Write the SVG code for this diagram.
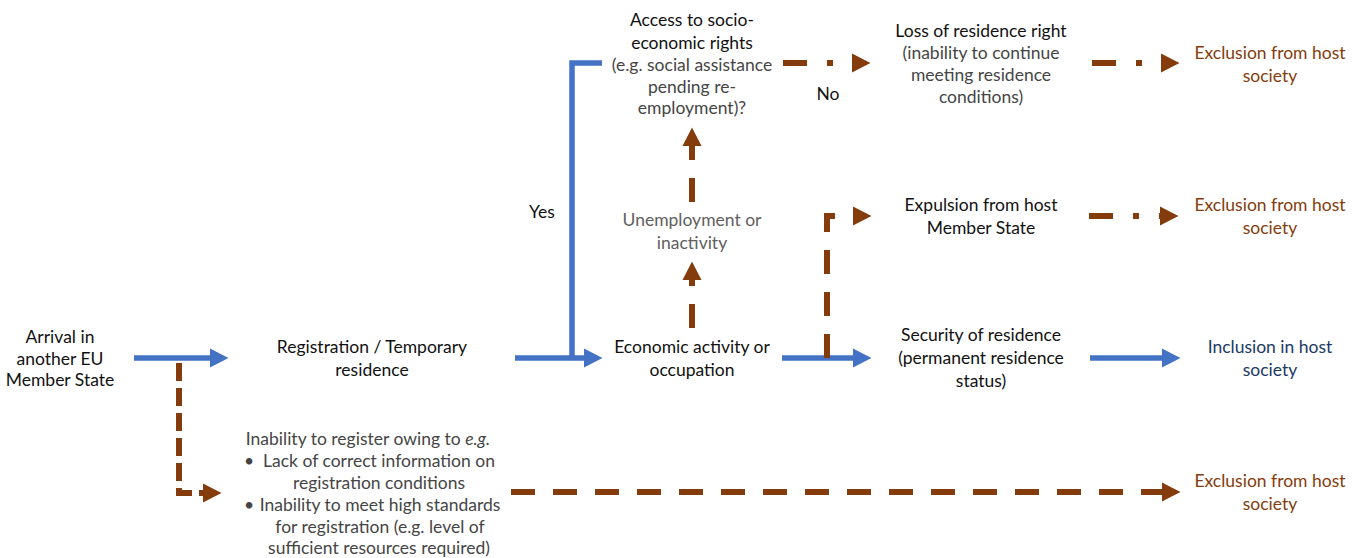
<svg xmlns="http://www.w3.org/2000/svg" width="1360" height="558" viewBox="0 0 1360 558">
  <style>
    text { font-family: Lato, "Open Sans", "Liberation Sans", sans-serif; font-size: 17.5px; text-anchor: middle; fill: #111111; }
    .light { fill: #454545; }
    .grey { fill: #606060; }
    .brown { fill: #843C0C; }
    .navy { fill: #203864; }
    .blue { fill: none; stroke: #4472C4; stroke-width: 5.5; }
    .bdash { fill: none; stroke: #843C0C; stroke-width: 6; stroke-dasharray: 24 18; }
    .bsys { fill: none; stroke: #843C0C; stroke-width: 6; stroke-dasharray: 18 7; }
    .bdot { fill: none; stroke: #843C0C; stroke-width: 6; stroke-dasharray: 24 20 6 20; }
  </style>
  <defs>
    <marker id="headBlue" markerUnits="userSpaceOnUse" markerWidth="19" markerHeight="20" refX="0" refY="9.5" orient="auto" overflow="visible">
      <path d="M0,0 L18.5,9.5 L0,19 Z" fill="#4472C4"/>
    </marker>
    <marker id="headBrown" markerUnits="userSpaceOnUse" markerWidth="19" markerHeight="20" refX="0" refY="9.5" orient="auto" overflow="visible">
      <path d="M0,0 L18.5,9.5 L0,19 Z" fill="#843C0C"/>
    </marker>
  </defs>

  <g id="connectors">
    <!-- main path (blue, solid) -->
    <path class="blue" d="M134,358 H210" marker-end="url(#headBlue)"/>
    <path class="blue" d="M515,358 H584" marker-end="url(#headBlue)"/>
    <path class="blue" d="M572,358 V63 H602"/>
    <path class="blue" d="M782,358 H853" marker-end="url(#headBlue)"/>
    <path class="blue" d="M1090,358 H1162" marker-end="url(#headBlue)"/>
    <!-- exclusion paths (brown, dashed) -->
    <path class="bsys" d="M179,363 V493 H203" marker-end="url(#headBrown)"/>
    <path class="bdash" d="M511,492 H1162" marker-end="url(#headBrown)"/>
    <path class="bdash" d="M692,328 V280" marker-end="url(#headBrown)"/>
    <path class="bdash" d="M692,202 V146" marker-end="url(#headBrown)"/>
    <path class="bdash" d="M827,358 V216 H853" marker-end="url(#headBrown)"/>
    <path class="bdot" d="M783,63 H852" marker-end="url(#headBrown)"/>
    <path class="bdot" d="M1092,63 H1161" marker-end="url(#headBrown)"/>
    <path class="bdot" d="M1089,216 H1160" marker-end="url(#headBrown)"/>
  </g>

  <g id="arrival">
    <text x="60" y="343">Arrival in</text>
    <text x="60" y="365">another EU</text>
    <text x="60" y="386">Member State</text>
  </g>
  <g id="registration">
    <text x="372" y="353">Registration / Temporary</text>
    <text x="372" y="376">residence</text>
  </g>
  <g id="economic-activity">
    <text x="692" y="353">Economic activity or</text>
    <text x="692" y="376">occupation</text>
  </g>
  <g id="security">
    <text x="981" y="341">Security of residence</text>
    <text x="981" y="364">(permanent residence</text>
    <text x="981" y="387">status)</text>
  </g>
  <g id="inclusion">
    <text class="navy" x="1270" y="353">Inclusion in host</text>
    <text class="navy" x="1270" y="376">society</text>
  </g>
  <g id="unemployment">
    <text class="grey" x="692" y="226">Unemployment or</text>
    <text class="grey" x="692" y="249">inactivity</text>
  </g>
  <g id="expulsion">
    <text x="981" y="211">Expulsion from host</text>
    <text x="981" y="234">Member State</text>
  </g>
  <g id="exclusion-2">
    <text class="brown" x="1270" y="211">Exclusion from host</text>
    <text class="brown" x="1270" y="234">society</text>
  </g>
  <g id="access">
    <text x="692" y="26">Access to socio-</text>
    <text x="692" y="49">economic rights</text>
    <text class="light" x="692" y="71">(e.g. social assistance</text>
    <text class="light" x="692" y="93">pending re-</text>
    <text class="light" x="692" y="114">employment)?</text>
  </g>
  <g id="labels">
    <text x="828" y="100">No</text>
    <text x="542" y="218">Yes</text>
  </g>
  <g id="loss">
    <text x="981" y="37">Loss of residence right</text>
    <text class="light" x="981" y="59">(inability to continue</text>
    <text class="light" x="981" y="81">meeting residence</text>
    <text class="light" x="981" y="103">conditions)</text>
  </g>
  <g id="exclusion-1">
    <text class="brown" x="1270" y="59">Exclusion from host</text>
    <text class="brown" x="1270" y="82">society</text>
  </g>
  <g id="inability">
    <text class="light" x="368" y="445">Inability to register owing to <tspan font-style="italic">e.g.</tspan></text>
    <text class="light" x="249" y="467">•</text>
    <text class="light" x="379" y="467">Lack of correct information on</text>
    <text class="light" x="379" y="489">registration conditions</text>
    <text class="light" x="249" y="511">•</text>
    <text class="light" x="380" y="511">Inability to meet high standards</text>
    <text class="light" x="380" y="533">for registration (e.g. level of</text>
    <text class="light" x="379" y="554">sufficient resources required)</text>
  </g>
  <g id="exclusion-3">
    <text class="brown" x="1270" y="487">Exclusion from host</text>
    <text class="brown" x="1270" y="510">society</text>
  </g>
</svg>
